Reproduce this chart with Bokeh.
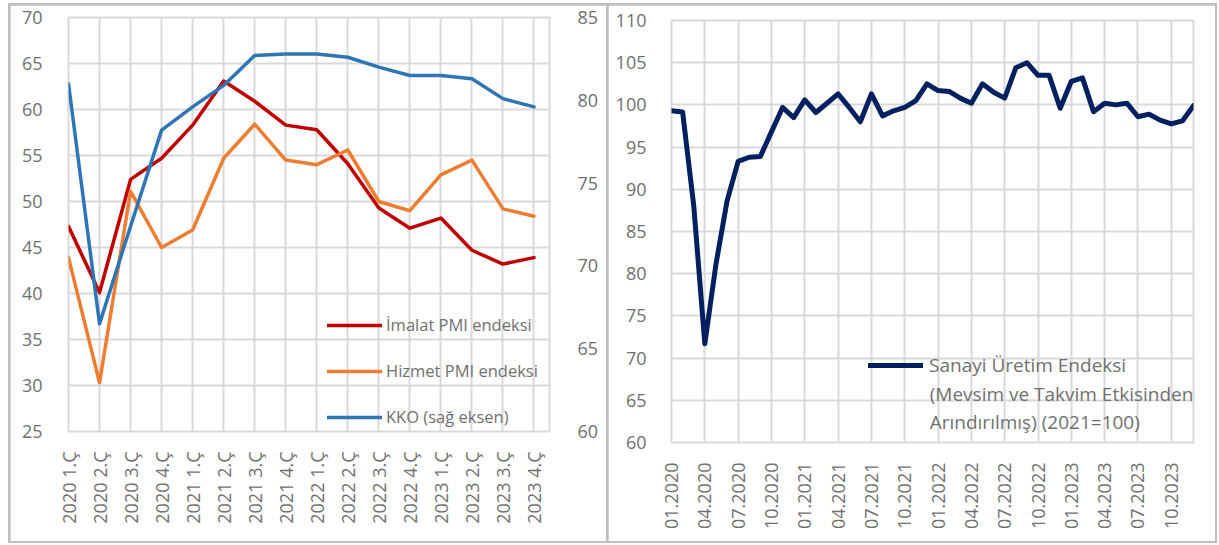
import math
from bokeh.plotting import figure
from bokeh.models import Range1d, LinearAxis, FixedTicker, Legend, LegendItem, Label
from bokeh.layouts import row
from bokeh.embed import file_html
from bokeh.resources import INLINE

FONT = "Open Sans"
TXT = "#707070"
GRID = "#D9D9D9"
BORDER = "#BFBFBF"

# ---------------- data: left panel (quarterly) ----------------
quarters = ["2020 1.Ç", "2020 2.Ç", "2020 3.Ç", "2020 4.Ç",
            "2021 1.Ç", "2021 2.Ç", "2021 3.Ç", "2021 4.Ç",
            "2022 1.Ç", "2022 2.Ç", "2022 3.Ç", "2022 4.Ç",
            "2023 1.Ç", "2023 2.Ç", "2023 3.Ç", "2023 4.Ç"]
imalat = [47.3, 40.1, 52.4, 54.7, 58.3, 63.1, 60.9, 58.3,
          57.8, 54.1, 49.3, 47.1, 48.2, 44.7, 43.2, 43.9]
hizmet = [43.9, 30.3, 51.1, 45.0, 46.9, 54.7, 58.4, 54.5,
          54.0, 55.6, 50.0, 49.0, 52.9, 54.5, 49.2, 48.4]
kko = [81.0, 66.5, 72.4, 78.2, 79.6, 80.9, 82.7, 82.8,
       82.8, 82.6, 82.0, 81.5, 81.5, 81.3, 80.1, 79.6]
left_ticks = [25, 30, 35, 40, 45, 50, 55, 60, 65, 70]
right_ticks = [60, 65, 70, 75, 80, 85]

# ---------------- data: right panel (monthly) ----------------
years = [2020, 2021, 2022, 2023]
months = ["%02d.%d" % (m, y) for y in years for m in range(1, 13)]
sanayi = [99.3, 99.15, 88.1, 71.7, 81.1, 88.6, 93.3, 93.8, 93.9, 96.8, 99.7, 98.5,
          100.6, 99.1, 100.2, 101.3, 99.7, 98.0, 101.3, 98.7, 99.3, 99.7, 100.5, 102.5,
          101.7, 101.6, 100.8, 100.2, 102.5, 101.5, 100.8, 104.4, 105.0, 103.5, 103.5, 99.6,
          102.8, 103.2, 99.2, 100.2, 100.0, 100.2, 98.6, 98.9, 98.2, 97.75, 98.1, 99.9]
sanayi_ticks = [60, 65, 70, 75, 80, 85, 90, 95, 100, 105, 110]


def style_axis(ax, size="18px"):
    ax.major_tick_line_color = None
    ax.minor_tick_line_color = None
    ax.axis_line_color = None
    ax.major_label_text_font = FONT
    ax.major_label_text_font_size = size
    ax.major_label_text_color = TXT


# ---------------- left figure ----------------
xq = list(range(len(quarters)))
p1 = figure(width=596, height=536, output_backend="svg", toolbar_location=None,
            x_range=Range1d(0, len(quarters) - 0.5), y_range=Range1d(25, 70),
            min_border_left=58, min_border_right=57, min_border_top=12, min_border_bottom=110,
            frame_align=False, margin=(2, 0, 2, 2))
p1.extra_y_ranges = {"r": Range1d(60, 85)}
p1.xaxis.ticker = FixedTicker(ticks=xq)
p1.xaxis.major_label_overrides = {i: q for i, q in zip(xq, quarters)}
p1.xaxis.major_label_orientation = math.pi / 2
p1.xaxis.major_label_standoff = 14
p1.yaxis.ticker = FixedTicker(ticks=left_ticks)
p1.yaxis.major_label_standoff = 20
style_axis(p1.xaxis[0], "18px")
style_axis(p1.yaxis[0])
rax = LinearAxis(y_range_name="r", ticker=FixedTicker(ticks=right_ticks))
style_axis(rax)
rax.major_label_standoff = 22
p1.add_layout(rax, "right")
p1.grid.grid_line_color = GRID
p1.grid.grid_line_width = 2
p1.outline_line_color = GRID
p1.outline_line_width = 2

r1 = p1.line(xq, imalat, color="#C00000", line_width=3.5, line_join="round", line_cap="round")
r2 = p1.line(xq, hizmet, color="#ED7D31", line_width=3.5, line_join="round", line_cap="round")
r3 = p1.line(xq, kko, color="#2E75B6", line_width=3.5, line_join="round", line_cap="round",
             y_range_name="r")
leg1 = Legend(items=[LegendItem(label="İmalat PMI endeksi", renderers=[r1]),
                     LegendItem(label="Hizmet PMI endeksi", renderers=[r2]),
                     LegendItem(label="KKO (sağ eksen)", renderers=[r3])],
              location=(259, 3), orientation="vertical", glyph_width=55, glyph_height=20,
              label_height=20, spacing=23, padding=0, margin=0, label_standoff=4,
              background_fill_alpha=0, border_line_color=None,
              label_text_font=FONT, label_text_font_size="16.5px", label_text_color=TXT)
p1.add_layout(leg1)

# ---------------- right figure ----------------
xm = list(range(len(months)))
p2 = figure(width=607, height=536, output_backend="svg", toolbar_location=None,
            x_range=Range1d(0, len(months) - 1), y_range=Range1d(60, 110),
            min_border_left=63, min_border_right=22, min_border_top=15, min_border_bottom=99,
            frame_align=False, margin=(2, 2, 2, 2))
p2.xaxis.ticker = FixedTicker(ticks=xm[::3])
p2.xaxis.major_label_overrides = {i: months[i] for i in xm[::3]}
p2.xaxis.major_label_orientation = math.pi / 2
p2.xaxis.major_label_standoff = 14
p2.yaxis.ticker = FixedTicker(ticks=sanayi_ticks)
p2.yaxis.major_label_standoff = 19
style_axis(p2.xaxis[0], "18px")
style_axis(p2.yaxis[0])
p2.grid.grid_line_color = GRID
p2.grid.grid_line_width = 2
p2.outline_line_color = GRID
p2.outline_line_width = 2

r4 = p2.line(xm, sanayi, color="#002060", line_width=5, line_join="round", line_cap="round")
leg2 = Legend(items=[LegendItem(label="Sanayi Üretim Endeksi", renderers=[r4])],
              location=(197, 64), glyph_width=55, glyph_height=20, label_height=20,
              padding=0, margin=0, label_standoff=6,
              background_fill_alpha=0, border_line_color=None,
              label_text_font=FONT, label_text_font_size="19px", label_text_color=TXT)
p2.add_layout(leg2)
for txt, yv in [("(Mevsim ve Takvim Etkisinden", 65.7), ("Arındırılmış) (2021=100)", 62.4)]:
    p2.add_layout(Label(x=23.25, y=yv, text=txt, text_baseline="middle",
                        text_font=FONT, text_font_size="19px", text_color=TXT))

layout = row(p1, p2, spacing=0, margin=(3, 0, 0, 8),
             styles={"background-color": BORDER})
open("out.html", "w").write(file_html(layout, INLINE))
